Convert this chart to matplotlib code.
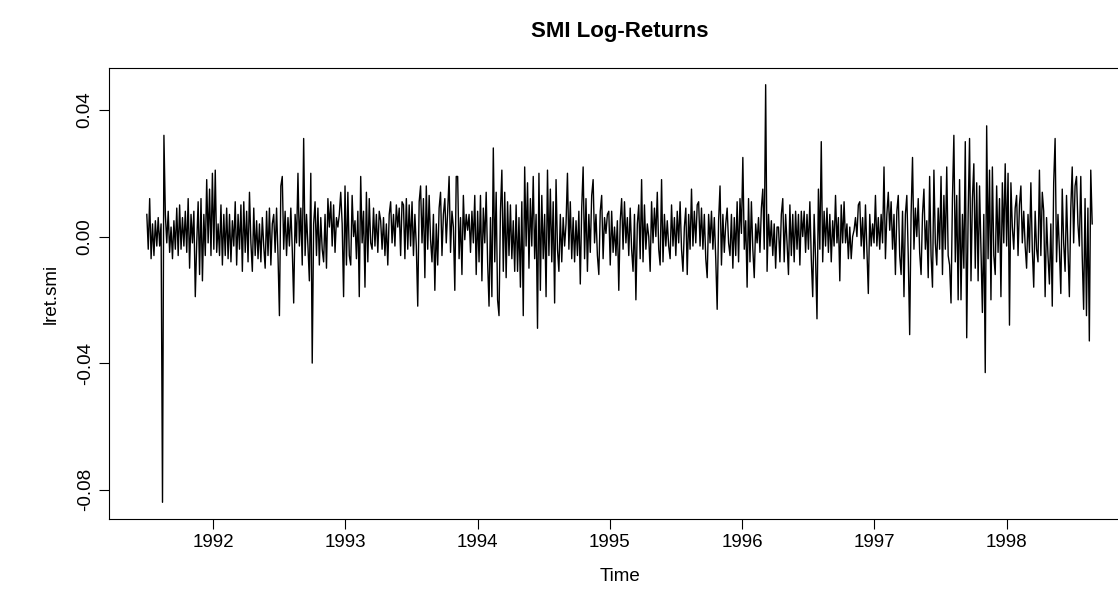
import numpy as np
import matplotlib.pyplot as plt

plt.rcParams['font.family'] = ['Liberation Sans', 'DejaVu Sans']

# SMI daily log-returns (units of 0.001) in 12 slices
seg01 = [7, -4, 12, -7, 4, -6, 5, -3, 6, -3, 4, -84, 32, 7, -2, 8, -5, 3, -7, 5,
         -4, 9, -6, 10, -4, 6, -3, 8, -5, 12, -10, 7, -2, 8, -19, -2, 11, -12, 12, -14,
         7, -6, 18, -2, 15, -6, 20, -4, 21, -5]
seg02 = [4, -6, 10, -9, 7, -6, 9, -7, 7, -8, 5, -3, 11, -9, 7, -4, 10, -11, 11, -5,
         8, -8, 14, -2, -11, 9, -6, 5, -7, 4, -8, 6, -3, -10, 8, -6, 9, -9, 4, 7,
         -5, 9, -6, -25, 16, 19, -4, 8, -6, 6, -3, 9, -4, -21, 7, -2]
seg03 = [20, -3, 9, -9, 31, -6, 7, -3, -14, 20, -40, 4, 11, -6, 9, -9, 6, -4, -8, 7,
         -10, 12, 3, 11, -3, 10, -5, 6, 3, 7, 14, 4, -19, 16, -9, 14, -6, -9, 13, 0,
         5, -7, 8, -19, 19, -2, 8, -16, 14, -8, 12, -2, -4, 9, -3, 7]
seg04 = [-5, 8, 5, -4, 6, -6, 4, -9, 7, 11, -2, 7, -3, 10, 3, 9, -6, 11, 10, -7,
         12, -4, 10, -3, 11, -6, 7, -3, -22, 11, 16, -2, 12, -13, 16, -4, 13, -1, -8, 7,
         -17, 4, -9, 9, 14, -6, 7, 12, -2, 8, 19, -5, 8, 3, -17, 19]
seg05 = [19, -7, 6, -12, 13, -1, 7, 2, 7, -5, 8, -2, 13, -12, 8, -8, 13, -14, 9, -2,
         14, -8, -22, 6, -19, 28, -8, 14, -20, -25, 8, 21, -11, 14, -13, 11, -6, 10, -7, 5,
         -11, 10, -11, 6, -16, 11, -25, 22, -3, 17, -10, 12, -3, 19, -7, 7, -29]
seg06 = [20, -17, 13, -7, 7, -19, 21, -6, 15, -8, 11, -21, 18, -4, -11, 7, -8, 6, -3, 4,
         20, -4, 11, -7, 6, -8, 5, -6, 8, -15, 9, 22, -7, 12, -11, 7, -5, 13, 18, -2,
         7, -6, -12, 8, 13, -7, 6, 1, 7, 8, -9, 8, -5, 3, -6, 5, -17]
seg07 = [5, 12, -4, 11, -2, 6, -6, 9, -4, -11, 7, -20, 4, 10, -7, 18, -8, 10, -4, 4,
         0, -11, 11, -2, 9, 0, 14, -4, -9, 18, -8, 7, -3, 5, -3, -7, 10, -3, 6, -6,
         8, -2, 11, -4, -11, 3, 9, -12, 7, -4, 15, -3, 8, -2, 10]
seg08 = [11, -3, 9, -4, 7, -7, -13, 7, -2, 8, -4, 6, -7, -23, 5, 16, -9, 7, -5, 4,
         9, -2, -6, 7, -10, 6, -6, 11, -8, 12, 1, 25, -4, 5, -16, 12, -8, 11, -4, -13,
         4, -2, 6, -5, 9, 15, -4, 48, -11, 7, -3, 5, -6, 4, -10, 3]
seg09 = [3, -8, 7, 12, -8, 7, -2, -12, 10, -6, 7, -8, 8, -4, 7, -9, 8, 0, 8, -5,
         7, -4, 11, -7, -19, 7, -7, -26, 15, -4, 30, -8, 8, -3, 9, -5, 7, -8, 5, -3,
         13, -2, 6, -14, 10, -2, 11, -2, 4, -7, 3, -7, 0, 2, 6, 0, 10]
seg10 = [11, -3, 6, -7, 10, -4, -18, 7, -3, 4, -2, 13, -3, 6, -4, 7, -2, 22, -7, 7,
         14, 2, 11, -4, 7, -12, 8, 13, -6, -12, 8, -19, 7, 13, -6, -31, 7, 25, -4, 9,
         0, 12, -5, -12, 7, 15, -4, 5, -13, 19, -6, -16, 21, -2, -9, 9, -4, 19]
seg11 = [-12, 13, -4, 22, -6, -9, -21, 12, 32, -8, 13, -20, 18, -20, 7, -10, 30, -32, 7, 31,
         -14, 12, 23, -10, 17, -14, 16, -4, -24, 7, -43, 35, -7, 21, -20, 22, -6, -12, 16, -5,
         12, -19, 17, -2, 23, -3, 20, -28, 17, 3, -4, 9, 13, -6, 10]
seg12 = [16, -2, 8, -3, -10, 7, -5, 17, -4, -16, 8, -4, -8, 21, -6, 14, 8, -19, 6, -6,
         -15, 4, -22, 17, 31, -8, 7, -4, -18, 15, -2, -11, 13, -4, -19, 9, 22, -2, 16, 19,
         4, -3, 19, -6, -23, 12, -25, 9, -33, 21, 4]

t_start = 1991 + 130 / 260   # EuStockMarkets start, 260 obs/year
t_end = 1998 + 168 / 260

lret_smi = np.array(seg01 + seg02 + seg03 + seg04 + seg05 + seg06 +
                    seg07 + seg08 + seg09 + seg10 + seg11 + seg12) / 1000.0
time = np.linspace(t_start, t_end, len(lret_smi))

fig = plt.figure(figsize=(11.18, 5.97), dpi=100, facecolor='w')
# plot region runs a little past the right edge of the picture
ax = fig.add_axes([109 / 1118, 1 - 519 / 597, (1130 - 109) / 1118, (519 - 68) / 597])
ax.plot(time, lret_smi, color='black', linewidth=1.0)
ax.margins(x=0.04, y=0.04)

ax.set_xticks([1992, 1993, 1994, 1995, 1996, 1997, 1998])
ax.set_yticks([-0.08, -0.04, 0.00, 0.04])
ax.set_yticklabels(['-0.08', '-0.04', '0.00', '0.04'], rotation=90, va='center')
ax.tick_params(direction='out', length=7, width=0.8, labelsize=13.5, pad=4, colors='black')
for s in ax.spines.values():
    s.set_linewidth(0.8)

ax.set_title('SMI Log-Returns', fontsize=16, fontweight='bold', pad=22)
ax.set_xlabel('Time', fontsize=13.5, labelpad=12)
ax.set_ylabel('lret.smi', fontsize=13.5, labelpad=12)

fig.savefig('out.png', dpi=100, facecolor='w')
plt.close(fig)
